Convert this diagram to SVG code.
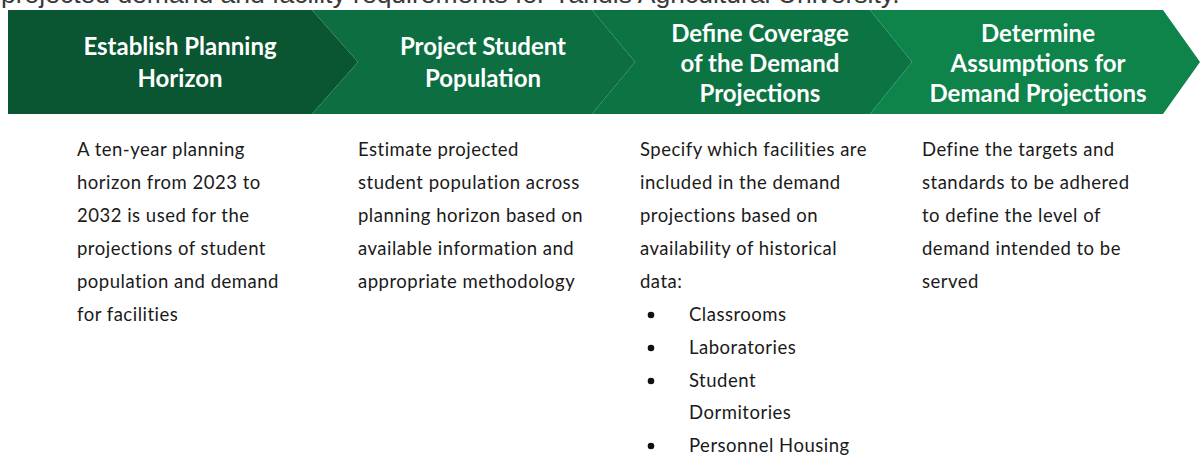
<svg xmlns="http://www.w3.org/2000/svg" width="1201" height="457" viewBox="0 0 1201 457">
<style>
.top{font-family:"Liberation Sans",Arial,sans-serif;font-size:26.5px;fill:#3a3a3a}
.hd{font-family:Lato,"Liberation Sans",sans-serif;font-weight:700;font-size:24px;fill:#ffffff;text-anchor:middle}
.bd{font-family:Lato,"Liberation Sans",sans-serif;font-size:18.5px;letter-spacing:0.5px;fill:#1a1a1a}
</style>
<rect width="1201" height="457" fill="#ffffff"/>
<text class="top" x="1" y="3">projected demand and facility requirements for Yandis Agricultural University.</text>
<g id="connectors"></g>
<g id="step1">
<polygon points="8,10 312,10 358,62 312,114 8,114" fill="#0a5532"/>
<text class="hd" x="180" y="55">Establish Planning</text>
<text class="hd" x="180" y="87">Horizon</text>
<text class="bd" x="77" y="156">A ten-year planning</text>
<text class="bd" x="77" y="189">horizon from 2023 to</text>
<text class="bd" x="77" y="222">2032 is used for the</text>
<text class="bd" x="77" y="255">projections of student</text>
<text class="bd" x="77" y="288">population and demand</text>
<text class="bd" x="77" y="321">for facilities</text>
</g>
<g id="step2">
<polygon points="312,10 592,10 635,62 592,114 312,114 358,62" fill="#0c6e41"/>
<text class="hd" x="483" y="55">Project Student</text>
<text class="hd" x="483" y="87">Population</text>
<text class="bd" x="358" y="156">Estimate projected</text>
<text class="bd" x="358" y="189">student population across</text>
<text class="bd" x="358" y="222">planning horizon based on</text>
<text class="bd" x="358" y="255">available information and</text>
<text class="bd" x="358" y="288">appropriate methodology</text>
</g>
<g id="step3">
<polygon points="592,10 870,10 912,62 870,114 592,114 635,62" fill="#0b7442"/>
<text class="hd" x="760" y="42">Define Coverage</text>
<text class="hd" x="760" y="72">of the Demand</text>
<text class="hd" x="760" y="102">Projections</text>
<text class="bd" x="640" y="156">Specify which facilities are</text>
<text class="bd" x="640" y="189">included in the demand</text>
<text class="bd" x="640" y="222">projections based on</text>
<text class="bd" x="640" y="255">availability of historical</text>
<text class="bd" x="640" y="288">data:</text>
<circle cx="651" cy="315" r="3.3" fill="#111"/>
<text class="bd" x="689" y="321">Classrooms</text>
<circle cx="651" cy="348" r="3.3" fill="#111"/>
<text class="bd" x="689" y="354">Laboratories</text>
<circle cx="651" cy="381" r="3.3" fill="#111"/>
<text class="bd" x="689" y="387">Student</text>
<text class="bd" x="689" y="419">Dormitories</text>
<circle cx="651" cy="446" r="3.3" fill="#111"/>
<text class="bd" x="689" y="452">Personnel Housing</text>
</g>
<g id="step4">
<polygon points="870,10 1163,10 1200,62 1163,114 870,114 912,62" fill="#0e834a"/>
<text class="hd" x="1038" y="42">Determine</text>
<text class="hd" x="1038" y="72">Assumptions for</text>
<text class="hd" x="1038" y="102">Demand Projections</text>
<text class="bd" x="922" y="156">Define the targets and</text>
<text class="bd" x="922" y="189">standards to be adhered</text>
<text class="bd" x="922" y="222">to define the level of</text>
<text class="bd" x="922" y="255">demand intended to be</text>
<text class="bd" x="922" y="288">served</text>
</g>
</svg>
